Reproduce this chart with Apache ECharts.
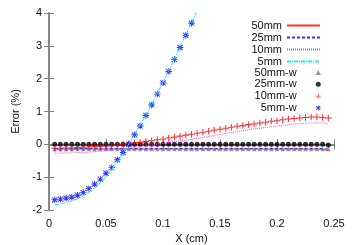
<!DOCTYPE html>
<html>
<head>
<meta charset="utf-8">
<script src="https://cdn.jsdelivr.net/npm/echarts@6/dist/echarts.min.js"></script>
<style>html,body{margin:0;padding:0;background:#fff;}#c{width:354px;height:245px;}</style>
</head>
<body>
<div id="c"></div>
<script>
// ---- data ----
var xTicks = [0, 0.05, 0.1, 0.15, 0.2, 0.25];
var yTicks = [-2, -1, 0, 1, 2, 3, 4];

var lineX = [0.005, 0.05, 0.1, 0.15, 0.2, 0.235, 0.24, 0.245];
var mm50 = [-0.145, -0.145, -0.145, -0.145, -0.145, -0.145, -0.155, -0.19];
var mm25 = [-0.13, -0.13, -0.13, -0.13, -0.13, -0.13, -0.13, -0.14];

var mm10X = [0.005, 0.02, 0.035, 0.05, 0.06, 0.07, 0.08, 0.09, 0.1, 0.11, 0.12, 0.13, 0.14, 0.15, 0.165, 0.18, 0.2, 0.215, 0.23, 0.24, 0.245];
var mm10 = [-0.27, -0.26, -0.24, -0.19, -0.16, -0.12, -0.07, -0.02, 0.03, 0.08, 0.13, 0.18, 0.24, 0.3, 0.39, 0.47, 0.56, 0.62, 0.65, 0.65, 0.63];

var mm5X = [0.005, 0.01, 0.015, 0.02, 0.025, 0.03, 0.035, 0.04, 0.045, 0.05, 0.055, 0.06, 0.065, 0.07, 0.075, 0.08, 0.085, 0.09, 0.095, 0.1, 0.105, 0.11, 0.115, 0.12, 0.125, 0.13];
var mm5 = [-1.84, -1.82, -1.78, -1.73, -1.66, -1.57, -1.46, -1.33, -1.17, -0.98, -0.77, -0.53, -0.27, 0.01, 0.3, 0.59, 0.9, 1.22, 1.55, 1.89, 2.24, 2.6, 2.97, 3.34, 3.71, 4.08];

var markX = [0.005, 0.01, 0.015, 0.02, 0.025, 0.03, 0.035, 0.04, 0.045, 0.05, 0.055, 0.06, 0.065, 0.07, 0.075, 0.08, 0.085, 0.09, 0.095, 0.1, 0.105, 0.11, 0.115, 0.12, 0.125, 0.13, 0.135, 0.14, 0.145, 0.15, 0.155, 0.16, 0.165, 0.17, 0.175, 0.18, 0.185, 0.19, 0.195, 0.2, 0.205, 0.21, 0.215, 0.22, 0.225, 0.23, 0.235, 0.24, 0.245];
var mm50w = [-0.14, -0.14, -0.14, -0.14, -0.14, -0.14, -0.14, -0.14, -0.14, -0.14, -0.14, -0.14, -0.14, -0.14, -0.14, -0.14, -0.14, -0.14, -0.14, -0.14, -0.14, -0.14, -0.14, -0.14, -0.14, -0.14, -0.14, -0.14, -0.14, -0.14, -0.14, -0.14, -0.14, -0.14, -0.14, -0.14, -0.14, -0.14, -0.14, -0.14, -0.14, -0.14, -0.14, -0.14, -0.14, -0.14, -0.14, -0.14, -0.14];
var mm25w = [0, 0, 0, 0, 0, 0, 0, 0, 0, 0, 0, 0, 0, 0, 0, 0, 0, 0, 0, 0, 0, 0, 0, 0, 0, 0, 0, 0, 0, 0, 0, 0, 0, 0, 0, 0, 0, 0, 0, 0, 0, 0, 0, 0, 0, 0, 0, 0, -0.02];
var mm10w = [-0.12, -0.12, -0.11, -0.11, -0.1, -0.09, -0.08, -0.07, -0.06, -0.05, -0.04, -0.02, -0.01, 0.02, 0.04, 0.06, 0.09, 0.11, 0.14, 0.16, 0.19, 0.22, 0.25, 0.28, 0.31, 0.34, 0.37, 0.4, 0.43, 0.46, 0.49, 0.52, 0.55, 0.57, 0.6, 0.62, 0.65, 0.67, 0.7, 0.72, 0.75, 0.77, 0.79, 0.8, 0.82, 0.83, 0.83, 0.82, 0.8];
var mm5wX = [0.005, 0.01, 0.015, 0.02, 0.025, 0.03, 0.035, 0.04, 0.045, 0.05, 0.055, 0.06, 0.065, 0.07, 0.075, 0.08, 0.085, 0.09, 0.095, 0.1, 0.105, 0.11, 0.115, 0.12, 0.125];
var mm5w = [-1.69, -1.67, -1.64, -1.61, -1.55, -1.47, -1.35, -1.21, -1.06, -0.88, -0.71, -0.47, -0.25, 0.0, 0.29, 0.56, 0.88, 1.2, 1.53, 1.87, 2.22, 2.58, 2.95, 3.32, 3.69];

function zip(xs, ys) { return xs.map(function (x, i) { return [x, ys[i]]; }); }

var PLUS = 'path://M4.2,0H5.8V4.2H10V5.8H5.8V10H4.2V5.8H0V4.2H4.2Z';
var STAR = 'path://M4.3,0H5.7V4.3H10V5.7H5.7V10H4.3V5.7H0V4.3H4.3Z M1.5,0.5L9.5,8.5L8.5,9.5L0.5,1.5Z M8.5,0.5L9.5,1.5L1.5,9.5L0.5,8.5Z';
var TRI = 'path://M5,0L10,9H0Z';

var FONT = 'Liberation Sans';
var frame = { show: true, lineStyle: { color: '#808080', width: 1.5 } };
var tick = { show: true, inside: true, length: 5, lineStyle: { color: '#808080', width: 1 } };

var chart = echarts.init(document.getElementById('c'), null, { renderer: 'canvas' });
chart.setOption({
  animation: false,
  backgroundColor: '#ffffff',
  textStyle: { fontFamily: FONT },
  grid: { left: 49, right: 20, top: 13, bottom: 35, containLabel: false, outerBoundsMode: 'none' },
  xAxis: [{
    type: 'value', min: xTicks[0], max: xTicks[xTicks.length - 1], interval: xTicks[1] - xTicks[0],
    position: 'bottom',
    name: 'X (cm)', nameLocation: 'middle', nameGap: 21,
    nameTextStyle: { color: '#111', fontSize: 11, fontFamily: FONT },
    axisLine: frame, axisTick: tick, splitLine: { show: false },
    axisLabel: { color: '#111', fontSize: 11, fontFamily: FONT, margin: 8 }
  }, {
    type: 'value', min: xTicks[0], max: xTicks[xTicks.length - 1], interval: xTicks[1] - xTicks[0],
    position: 'top', axisLine: frame, axisTick: tick, splitLine: { show: false },
    axisLabel: { show: false }
  }],
  yAxis: [{
    type: 'value', min: yTicks[0], max: yTicks[yTicks.length - 1], interval: 1,
    position: 'left',
    name: 'Error (%)', nameLocation: 'middle', nameGap: 23,
    nameTextStyle: { color: '#111', fontSize: 11, fontFamily: FONT },
    axisLine: frame, axisTick: tick, splitLine: { show: false },
    axisLabel: { color: '#111', fontSize: 11, fontFamily: FONT, margin: 7 }
  }, {
    type: 'value', min: yTicks[0], max: yTicks[yTicks.length - 1], interval: 1,
    position: 'right', axisLine: frame, axisTick: tick, splitLine: { show: false },
    axisLabel: { show: false }
  }],
  legend: [{
    data: ['50mm', '25mm', '10mm', '5mm'],
    orient: 'vertical', align: 'right', right: 33, top: 20,
    itemWidth: 33, itemHeight: 8, itemGap: 1, padding: 0,
    itemStyle: { opacity: 0 },
    textStyle: { color: '#111', fontSize: 11, fontFamily: FONT },
    selectedMode: false
  }, {
    data: ['50mm-w', '25mm-w', '10mm-w', '5mm-w'],
    orient: 'vertical', align: 'right', right: 33, top: 67,
    itemWidth: 33, itemHeight: 5, itemGap: 0.8, padding: 0,
    symbolKeepAspect: true,
    textStyle: { color: '#111', fontSize: 11, fontFamily: FONT },
    selectedMode: false
  }],
  series: [
    { name: '50mm', type: 'line', data: zip(lineX, mm50), symbol: 'none',
      lineStyle: { color: '#ff3030', width: 1 }, itemStyle: { color: '#ff3030' } },
    { name: '25mm', type: 'line', data: zip(lineX, mm25), symbol: 'none',
      lineStyle: { color: '#3030ff', width: 1, type: [3, 2] }, itemStyle: { color: '#3030ff' } },
    { name: '10mm', type: 'line', data: zip(mm10X, mm10), symbol: 'none',
      lineStyle: { color: '#ff40ff', width: 1, type: [1, 1] }, itemStyle: { color: '#ff40ff' } },
    { name: '5mm', type: 'line', data: zip(mm5X, mm5), symbol: 'none',
      lineStyle: { color: '#20e8f0', width: 1, type: [4, 1, 1, 1] }, itemStyle: { color: '#20e8f0' } },
    { name: '50mm-w', type: 'scatter', data: zip(markX, mm50w), symbol: TRI, symbolSize: 4.5,
      itemStyle: { color: '#808080' } },
    { name: '25mm-w', type: 'scatter', data: zip(markX, mm25w), symbol: 'circle', symbolSize: 5,
      itemStyle: { color: '#000000' } },
    { name: '10mm-w', type: 'scatter', data: zip(markX, mm10w), symbol: PLUS, symbolSize: 6.5,
      itemStyle: { color: '#ff0000' } },
    { name: '5mm-w', type: 'scatter', data: zip(mm5wX, mm5w), symbol: STAR, symbolSize: 6.5,
      itemStyle: { color: '#0000ff' } }
  ]
});
</script>
</body>
</html>
